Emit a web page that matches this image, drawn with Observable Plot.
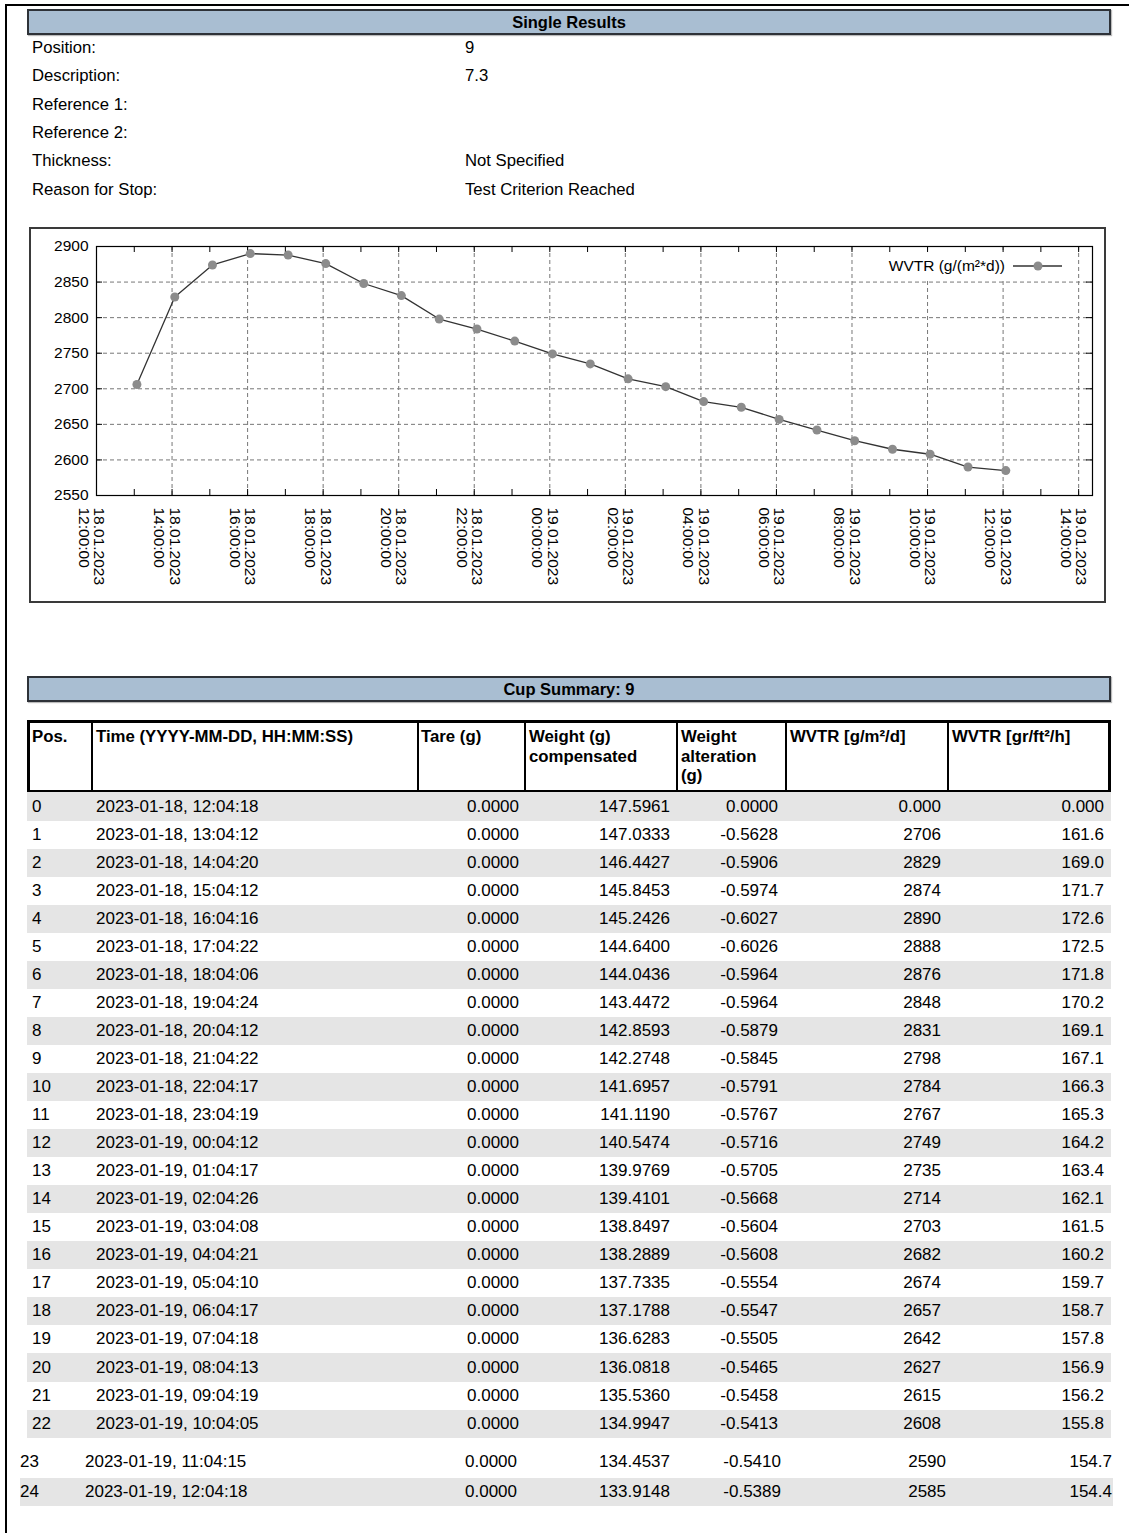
<!DOCTYPE html>
<html><head><meta charset="utf-8">
<script src="https://cdn.jsdelivr.net/npm/d3@7"></script>
<script src="https://cdn.jsdelivr.net/npm/@observablehq/plot@0.6"></script>
<style>
html,body{margin:0;padding:0;background:#fff;}
body{width:1129px;height:1533px;position:relative;overflow:hidden;font-family:"Liberation Sans",Arial,sans-serif;color:#000;}
.abs{position:absolute;}
.bar{position:absolute;left:27px;width:1084px;height:26px;box-sizing:border-box;border:2px solid #2e3238;background:#a9bed2;font-weight:bold;font-size:16.5px;text-align:center;line-height:22px;box-shadow:1px 1px 1px #bbb;}
.info{position:absolute;font-size:16.7px;line-height:20px;white-space:nowrap;}
.cell{position:absolute;font-size:17px;line-height:20px;white-space:nowrap;}
.hcell{position:absolute;font-size:16.8px;line-height:19.5px;font-weight:bold;white-space:nowrap;}
</style></head><body>
<div class="abs" style="left:5px;top:4px;width:1124px;height:2px;background:#000"></div>
<div class="abs" style="left:5px;top:4px;width:2px;height:1529px;background:#000"></div>
<div class="bar" style="top:9px">Single Results</div>
<div id="info"></div>
<div id="chart" class="abs" style="left:29px;top:227px;width:1077px;height:376px"></div>
<div class="abs" style="left:29px;top:227px;width:1077px;height:376px;box-sizing:border-box;border:2px solid #3a3a3a;pointer-events:none"></div>
<div id="legend" class="abs" style="left:876px;top:253px;width:194px;height:26px;background:#fff"></div>
<div class="bar" style="top:676px">Cup Summary: 9</div>
<div id="table"></div>
<script>
// ---------- data ----------
const infoLabels = ["Position:", "Description:", "Reference 1:", "Reference 2:", "Thickness:", "Reason for Stop:"];
const infoValues = ["9", "7.3", "", "", "Not Specified", "Test Criterion Reached"];

const pos = [0,1,2,3,4,5,6,7,8,9,10,11,12,13,14,15,16,17,18,19,20,21,22,23,24];
const times = [
  "2023-01-18, 12:04:18","2023-01-18, 13:04:12","2023-01-18, 14:04:20","2023-01-18, 15:04:12",
  "2023-01-18, 16:04:16","2023-01-18, 17:04:22","2023-01-18, 18:04:06","2023-01-18, 19:04:24",
  "2023-01-18, 20:04:12","2023-01-18, 21:04:22","2023-01-18, 22:04:17","2023-01-18, 23:04:19",
  "2023-01-19, 00:04:12","2023-01-19, 01:04:17","2023-01-19, 02:04:26","2023-01-19, 03:04:08",
  "2023-01-19, 04:04:21","2023-01-19, 05:04:10","2023-01-19, 06:04:17","2023-01-19, 07:04:18",
  "2023-01-19, 08:04:13","2023-01-19, 09:04:19","2023-01-19, 10:04:05","2023-01-19, 11:04:15",
  "2023-01-19, 12:04:18"];
const tare = [0,0,0,0,0,0,0,0,0,0,0,0,0,0,0,0,0,0,0,0,0,0,0,0,0];
const weight = [147.5961,147.0333,146.4427,145.8453,145.2426,144.6400,144.0436,143.4472,142.8593,142.2748,
  141.6957,141.1190,140.5474,139.9769,139.4101,138.8497,138.2889,137.7335,137.1788,136.6283,136.0818,
  135.5360,134.9947,134.4537,133.9148];
const alteration = [0,-0.5628,-0.5906,-0.5974,-0.6027,-0.6026,-0.5964,-0.5964,-0.5879,-0.5845,-0.5791,
  -0.5767,-0.5716,-0.5705,-0.5668,-0.5604,-0.5608,-0.5554,-0.5547,-0.5505,-0.5465,-0.5458,-0.5413,-0.5410,-0.5389];
const wvtrGm2d = [0,2706,2829,2874,2890,2888,2876,2848,2831,2798,2784,2767,2749,2735,2714,2703,2682,2674,
  2657,2642,2627,2615,2608,2590,2585];
const wvtrGrFt2h = [0,161.6,169.0,171.7,172.6,172.5,171.8,170.2,169.1,167.1,166.3,165.3,164.2,163.4,162.1,
  161.5,160.2,159.7,158.7,157.8,156.9,156.2,155.8,154.7,154.4];

const headers = ["Pos.", "Time (YYYY-MM-DD, HH:MM:SS)", "Tare (g)", "Weight (g)\ncompensated",
  "Weight\nalteration\n(g)", "WVTR [g/m²/d]", "WVTR [gr/ft²/h]"];

const yTicks = [2550, 2600, 2650, 2700, 2750, 2800, 2850, 2900];
const xTickTimes = ["2023-01-18T12:00:00Z","2023-01-18T14:00:00Z","2023-01-18T16:00:00Z","2023-01-18T18:00:00Z",
  "2023-01-18T20:00:00Z","2023-01-18T22:00:00Z","2023-01-19T00:00:00Z","2023-01-19T02:00:00Z",
  "2023-01-19T04:00:00Z","2023-01-19T06:00:00Z","2023-01-19T08:00:00Z","2023-01-19T10:00:00Z",
  "2023-01-19T12:00:00Z","2023-01-19T14:00:00Z"];
const xDomain = ["2023-01-18T12:00:00Z", "2023-01-19T14:22:00Z"];
const legendLabel = "WVTR (g/(m²*d))";

// ---------- info block ----------
const info = document.getElementById("info");
const infoY = [48, 76, 105, 133, 161, 190];
infoLabels.forEach((l, i) => {
  const a = document.createElement("div"); a.className = "info";
  a.style.left = "32px"; a.style.top = (infoY[i] - 10) + "px"; a.textContent = l; info.appendChild(a);
  const b = document.createElement("div"); b.className = "info";
  b.style.left = "465px"; b.style.top = (infoY[i] - 10) + "px"; b.textContent = infoValues[i]; info.appendChild(b);
});

// ---------- chart ----------
const parse = s => new Date(s.replace(", ", "T") + "Z");
const series = pos.filter(i => wvtrGm2d[i] > 0).map(i => ({time: parse(times[i]), wvtr: wvtrGm2d[i]}));
const W = 1077, H = 376, ml = 67, mr = 14, mt = 19, mb = 108;
const plotW = W - ml - mr, plotH = H - mt - mb;
const xTicks = xTickTimes.map(s => new Date(s));
const hourTicks = d3.utcHour.range(new Date(xDomain[0]), new Date(xDomain[1]));
const gridYTicks = yTicks.slice(1, -1);
const fmt = d3.utcFormat("%d.%m.%Y\n%H:%M:%S");

const chart = Plot.plot({
  width: W, height: H,
  marginLeft: ml, marginRight: mr, marginTop: mt, marginBottom: mb,
  style: {fontFamily: "'Liberation Sans', Arial, sans-serif", fontSize: "15.5px", color: "#000", background: "transparent"},
  x: {type: "utc", domain: xDomain.map(s => new Date(s))},
  y: {domain: [yTicks[0], yTicks[yTicks.length - 1]]},
  marks: [
    Plot.gridX(xTicks.slice(1), {stroke: "#777", strokeOpacity: 1, strokeDasharray: "4,3"}),
    Plot.gridY(gridYTicks, {stroke: "#777", strokeOpacity: 1, strokeDasharray: "4,3"}),
    Plot.tickX(hourTicks, {x: d => d, stroke: "#000", insetTop: plotH - 6}),
    Plot.tickX(hourTicks, {x: d => d, stroke: "#000", insetBottom: plotH - 6}),
    Plot.tickY(yTicks, {y: d => d, stroke: "#000", insetRight: plotW - 6}),
    Plot.tickY(yTicks, {y: d => d, stroke: "#000", insetLeft: plotW - 6}),
    Plot.axisY(yTicks, {tickSize: 0, tickPadding: 8, label: null, fill: "#000", tickFormat: d => String(d)}),
    Plot.axisX(xTicks, {tickSize: 0, tickFormat: fmt, tickRotate: 90, textAnchor: "start", lineAnchor: "middle", tickPadding: 12, label: null, fill: "#000", dx: -5}),
    Plot.frame({stroke: "#000", strokeWidth: 1.2}),
    Plot.line(series, {x: "time", y: "wvtr", stroke: "#333", strokeWidth: 1.3}),
    Plot.dot(series, {x: "time", y: "wvtr", r: 4.5, fill: "#8c8c8c", stroke: "none"})
  ]
});
document.getElementById("chart").appendChild(chart);

// legend (opaque key box inside the plot, as in the original)
const legend = document.getElementById("legend");
legend.innerHTML =
  `<div style="position:absolute;left:0;top:0;width:129px;height:26px;line-height:26px;text-align:right;font-size:15.5px;white-space:nowrap">${legendLabel}</div>
   <svg style="position:absolute;left:137px;top:0" width="50" height="26"><line x1="0" x2="49" y1="13" y2="13" stroke="#333" stroke-width="1.3"/><circle cx="25" cy="13" r="4.5" fill="#8c8c8c"/></svg>`;

// ---------- table ----------
const table = document.getElementById("table");
function add(html) { table.insertAdjacentHTML("beforeend", html); }
// header
add(`<div class="abs" style="left:27px;top:720px;width:1084px;height:73px;box-sizing:border-box;border:3px solid #000"></div>`);
const colBorders = [92, 418, 525, 677, 786, 948];
colBorders.forEach(x => add(`<div class="abs" style="left:${x - 1}px;top:720px;width:2px;height:73px;background:#000"></div>`));
const headerX = [32, 96, 421, 529, 681, 790, 952];
headers.forEach((h, i) => add(`<div class="hcell" style="left:${headerX[i]}px;top:727px">${h.replace(/\n/g, "<br>")}</div>`));

function fmtRow(i) {
  return [
    String(pos[i]), times[i], tare[i].toFixed(4), weight[i].toFixed(4), alteration[i].toFixed(4),
    i === 0 ? wvtrGm2d[i].toFixed(3) : String(wvtrGm2d[i]),
    i === 0 ? wvtrGrFt2h[i].toFixed(3) : wvtrGrFt2h[i].toFixed(1)
  ];
}
function row(i, cy, h, bandL, bandR, leftX, rightX) {
  if (i % 2 === 0) add(`<div class="abs" style="left:${bandL}px;top:${cy - h / 2}px;width:${bandR - bandL}px;height:${h}px;background:#e5e5e5"></div>`);
  const v = fmtRow(i);
  add(`<div class="cell" style="left:${leftX[0]}px;top:${cy - 10}px">${v[0]}</div>`);
  add(`<div class="cell" style="left:${leftX[1]}px;top:${cy - 10}px">${v[1]}</div>`);
  for (let k = 2; k < 7; k++)
    add(`<div class="cell" style="left:${rightX[k - 2] - 200}px;width:200px;text-align:right;top:${cy - 10}px">${v[k]}</div>`);
}
for (let i = 0; i <= 22; i++) row(i, 806.5 + 28.05 * i, 28.05, 27, 1111, [32, 96], [519, 670, 778, 941, 1104]);
row(23, 1462, 28, 20, 1113, [20, 85], [517, 670, 781, 946, 1112]);
row(24, 1491.5, 28, 20, 1113, [20, 85], [517, 670, 781, 946, 1112]);
</script>
</body></html>
